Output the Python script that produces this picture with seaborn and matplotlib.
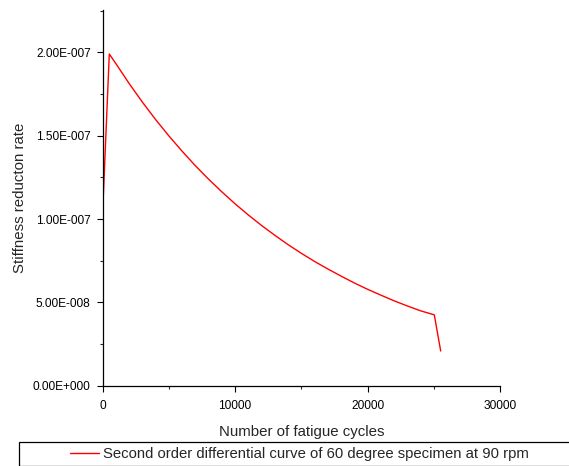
import math
import matplotlib
matplotlib.use("Agg")
import matplotlib.pyplot as plt
import matplotlib.ticker as mticker
from matplotlib.patches import Rectangle
import seaborn as sns
import pandas as pd

# Data
cycles = [0, 513, 1000, 2000, 3000, 4000, 5000, 6000, 7000, 8000, 9000,
          10000, 11000, 12000, 13000, 14000, 15000, 16000, 17000, 18000,
          19000, 20000, 21000, 22000, 23000, 24000, 25023, 25505]
rate_e7 = [1.02, 1.990, 1.933, 1.814, 1.702, 1.597, 1.499, 1.407, 1.320,
           1.239, 1.163, 1.091, 1.024, 0.961, 0.902, 0.846, 0.794, 0.745,
           0.700, 0.657, 0.616, 0.578, 0.543, 0.509, 0.478, 0.449, 0.425,
           0.208]
rate = [v * 1e-7 for v in rate_e7]
series_label = "Second order differential curve of 60 degree specimen at 90 rpm"
x_ticks = [0, 10000, 20000, 30000]
y_ticks = [0, 5e-8, 1e-7, 1.5e-7, 2e-7]

sns.set_style("ticks")
plt.rcParams["font.family"] = ["Liberation Sans", "DejaVu Sans"]

df = pd.DataFrame({"cycles": cycles, "rate": rate, "series": series_label})

W, H = 569, 466
fig = plt.figure(figsize=(W / 100, H / 100), dpi=100)
ax = fig.add_axes([102.5 / W, 1 - 385.7 / H, (500.3 - 102.5) / W, (385.7 - 10.3) / H])

sns.lineplot(data=df, x="cycles", y="rate", sort=False, color="#ff0000",
             linewidth=1.0, ax=ax, legend=False, estimator=None)

ax.set_xlim(0, 30000)
ax.set_ylim(0, 2.252e-7)
ax.set_xticks(x_ticks)
ax.set_yticks(y_ticks)
ax.xaxis.set_minor_locator(mticker.MultipleLocator(5000))
ax.yaxis.set_minor_locator(mticker.MultipleLocator(2.5e-8))


def sci_fmt(v, pos):
    if v == 0:
        return "0.00E+000"
    e = int(math.floor(math.log10(abs(v)) + 1e-9))
    m = v / 10 ** e
    return f"{m:.2f}E{e:+04d}"


ax.yaxis.set_major_formatter(mticker.FuncFormatter(sci_fmt))
ax.tick_params(axis="both", which="major", direction="out", length=4.5, width=0.8,
               labelsize=8.6, colors="black")
ax.tick_params(axis="x", which="major", pad=5.5)
ax.tick_params(axis="y", which="major", pad=4)
ax.tick_params(axis="both", which="minor", direction="out", length=2.5, width=0.8)
for s in ["top", "right"]:
    ax.spines[s].set_visible(False)
for s in ["left", "bottom"]:
    ax.spines[s].set_linewidth(0.9)
    ax.spines[s].set_color("black")

ax.set_xlabel("Number of fatigue cycles", fontsize=10.8, labelpad=10)
ax.set_ylabel("Stiffness reducton rate", fontsize=10.8, labelpad=4)

# legend frame spanning the bottom of the figure
fig.patches.append(Rectangle((19 / W, 0.4 / H), 1.0, 23.8 / H,
                             transform=fig.transFigure, fill=False,
                             edgecolor="black", linewidth=0.9, clip_on=False))
handles = [plt.Line2D([], [], color="#ff0000", linewidth=1.0)]
fig.legend(handles, [series_label], loc="center left",
           bbox_to_anchor=(70 / W, 1 - 454 / H), frameon=False,
           borderpad=0, borderaxespad=0, fontsize=10.7, handlelength=1.95,
           handletextpad=0.27)

fig.savefig("out.png", dpi=100)
